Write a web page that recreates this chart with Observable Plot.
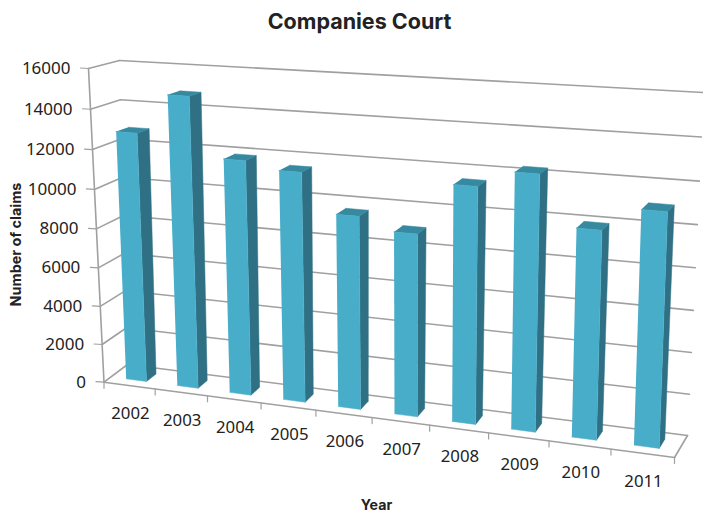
<!DOCTYPE html>
<html><head><meta charset="utf-8">
<script src="https://cdn.jsdelivr.net/npm/d3@7"></script>
<script src="https://cdn.jsdelivr.net/npm/@observablehq/plot@0.6"></script>
<style>html,body{margin:0;padding:0;background:#fff}svg{display:block}</style>
</head><body><div id="chart"></div>
<script>
const years = ["2002","2003","2004","2005","2006","2007","2008","2009","2010","2011"];
const claims = [12800,14800,11850,11500,9600,9000,11500,12300,9950,11050];
const yTicks = [0,2000,4000,6000,8000,10000,12000,14000,16000];
const yMax = 16000;
const barSpan = [0.3,0.7], depthSpan = [0.3,0.72];

// Perspective camera of the 3-D box: screen corners of the front and back planes.
const frontPlane = [[103.5,381.7],[674,457],[686,105],[88,68]];
const backPlane  = [[127,364],[687,435],[703,92],[119,60]];

function homography(q){ // unit square -> quad (bl, br, tr, tl)
  const [[x0,y0],[x1,y1],[x2,y2],[x3,y3]] = q;
  const dx1=x1-x2,dx2=x3-x2,sx=x0-x1+x2-x3,dy1=y1-y2,dy2=y3-y2,sy=y0-y1+y2-y3;
  const den=dx1*dy2-dx2*dy1, g=(sx*dy2-dx2*sy)/den, h=(dx1*sy-sx*dy1)/den;
  const a=x1-x0+g*x1,b=x3-x0+h*x3,d=y1-y0+g*y1,e=y3-y0+h*y3;
  return (u,v)=>{const k=g*u+h*v+1;return [(a*u+b*v+x0)/k,(d*u+e*v+y0)/k];};
}
const hF = homography(frontPlane), hB = homography(backPlane);
// u in categories, v in claims, w in depth (0 front, 1 back)
function P(u,v,w){
  const f=hF(u/years.length,v/yMax), b=hB(u/years.length,v/yMax);
  return [f[0]+(b[0]-f[0])*w, f[1]+(b[1]-f[1])*w];
}
const n = years.length;
const seg = (id,a,b)=>[{id,x:a[0],y:a[1]},{id,x:b[0],y:b[1]}];

const grid = yTicks.flatMap((t,i)=>[
  ...seg("wall"+i,P(0,t,0),P(0,t,1)),
  ...seg("back"+i,P(0,t,1),P(n,t,1))
]).concat(
  seg("axisY",P(0,0,0),P(0,yMax,0)),
  seg("floorF",P(0,0,0),P(n,0,0)),
  seg("floorR",P(n,0,0),P(n,0,1))
);
const ticks = yTicks.flatMap((t,i)=>{const p=P(0,t,0);return seg("ty"+i,p,[p[0]-8,p[1]-0.5]);})
  .concat(d3.range(n+1).flatMap(i=>{const p=P(i,0,0);return seg("tx"+i,p,[p[0],p[1]+6]);}));

const poly=(id,pts)=>pts.map(p=>({id,x:p[0],y:p[1]}));
const barsSide=[],barsTop=[],barsFront=[];
claims.forEach((c,i)=>{
  const u0=i+barSpan[0],u1=i+barSpan[1],w0=depthSpan[0],w1=depthSpan[1];
  barsSide.push(...poly("s"+i,[P(u1,0,w0),P(u1,0,w1),P(u1,c,w1),P(u1,c,w0)]));
  barsTop.push(...poly("t"+i,[P(u0,c,w0),P(u1,c,w0),P(u1,c,w1),P(u0,c,w1)]));
  barsFront.push(...poly("f"+i,[P(u0,0,w0),P(u1,0,w0),P(u1,c,w0),P(u0,c,w0)]));
});
const yLabels = yTicks.map(t=>{const p=P(0,t,0);return {x:p[0]-18,y:p[1],t:String(t)};});
const xLabels = years.map((t,i)=>{const p=P(i+0.5,0,0);return {x:p[0]+1,y:p[1]+28,t};});
const font = "Noto Sans";

const chart = Plot.plot({
  width:703,height:512,margin:0,
  style:{background:"#fff"},
  x:{domain:[0,703],range:[0,703],axis:null},
  y:{domain:[0,512],range:[0,512],axis:null},
  marks:[
    Plot.line(grid,{x:"x",y:"y",z:"id",stroke:"#a0a0a0",strokeWidth:1.6}),
    Plot.line(ticks,{x:"x",y:"y",z:"id",stroke:"#a0a0a0",strokeWidth:1.2}),
    Plot.line(barsSide,{x:"x",y:"y",z:"id",fill:"#2f7085",stroke:"#2f7085",strokeWidth:0.5}),
    Plot.line(barsTop,{x:"x",y:"y",z:"id",fill:"#37899f",stroke:"#37899f",strokeWidth:0.5}),
    Plot.line(barsFront,{x:"x",y:"y",z:"id",fill:"#48adc9",stroke:"#48adc9",strokeWidth:0.5}),
    Plot.text(yLabels,{x:"x",y:"y",text:"t",textAnchor:"end",fontSize:17,fontFamily:font,fill:"#222"}),
    Plot.text(xLabels,{x:"x",y:"y",text:"t",fontSize:16.8,fontFamily:font,fill:"#222"}),
    Plot.text(["Companies Court"],{x:()=>359,y:()=>22,text:d=>d,fontSize:21.5,fontWeight:700,fontFamily:"Inter",fill:"#222"}),
    Plot.text(["Number of claims"],{x:()=>16,y:()=>244,text:d=>d,rotate:-90,fontSize:14.4,fontWeight:700,fontFamily:"Inter",fill:"#222"}),
    Plot.text(["Year"],{x:()=>376,y:()=>505,text:d=>d,fontSize:14.2,fontWeight:700,fontFamily:"Inter",fill:"#222"})
  ]
});
document.getElementById("chart").append(chart);
</script></body></html>
